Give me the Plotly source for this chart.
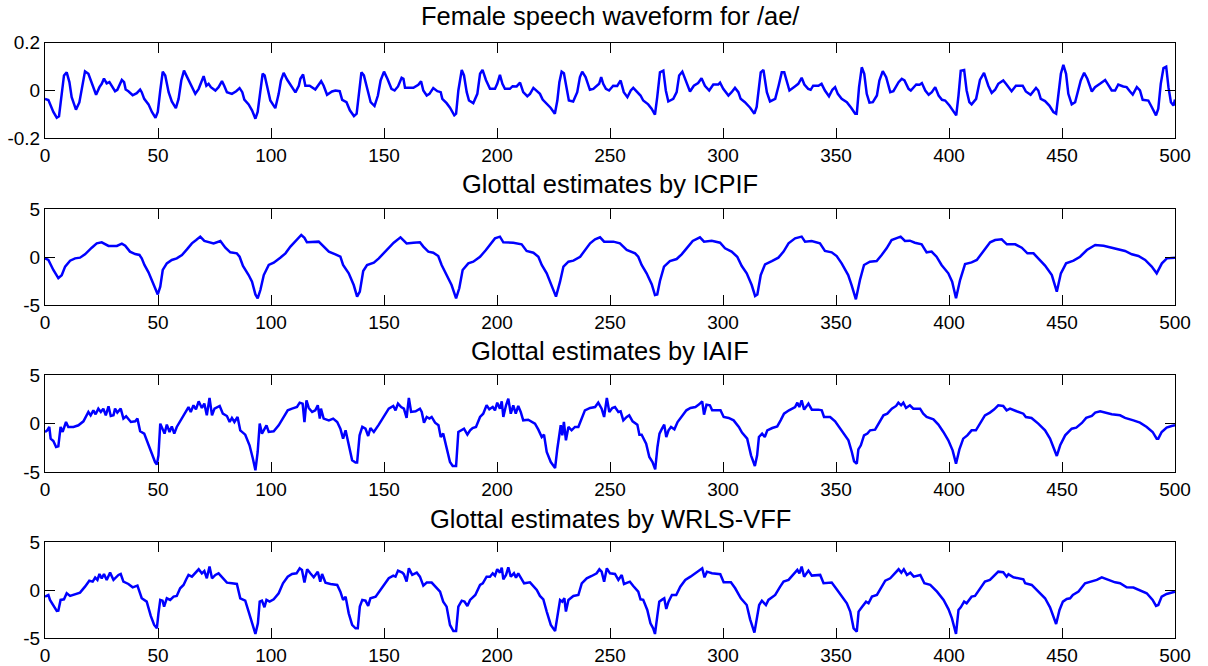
import plotly.graph_objects as go
from plotly.subplots import make_subplots

# ---- data (sample index, value) ----
speech = [(0,-0.035),(1.5,-0.04),(3.7,-0.09),(5.2,-0.114),(6.2,-0.108),(7.4,-0.02),(8.4,0.063),(9.6,0.076),(10.8,0.035),(11.8,-0.028),(13.7,-0.08),(15.2,-0.05),(16.7,0.02),(17.7,0.08),(19.2,0.07),(20.7,0.028),(22.6,-0.018),(24.1,0.014),(25.1,0.028),(26.1,0.05),(27.3,0.03),(28.5,0.035),(29.5,0.02),(31,-0.003),(32,0.003),(34,0.044),(35,0.035),(35.7,0.004),(36.9,-0.003),(38.8,-0.02),(40.6,-0.011),(42.1,0.004),(42.8,-0.007),(43.9,-0.035),(45.8,-0.058),(47.3,-0.09),(48.9,-0.114),(49.9,-0.09),(51,0),(52.1,0.079),(53.2,0.063),(54.7,-0.007),(56.1,-0.046),(57.9,-0.074),(59.1,-0.035),(60.3,0.042),(61.5,0.083),(62.8,0.058),(64.3,0.035),(66.5,-0.014),(68,0.007),(70.2,0.06),(71.4,0.02),(72.4,0.028),(73.4,0.014),(75.4,0),(76.8,0.014),(78.3,0.039),(79.3,0.02),(80.5,-0.007),(82.7,-0.014),(84.6,-0.003),(86.1,0.01),(87.3,-0.007),(88.2,-0.038),(90.1,-0.058),(91.6,-0.083),(93.1,-0.118),(94.1,-0.09),(95.3,0),(96.3,0.07),(97.2,0.063),(98.2,0.02),(99.7,-0.042),(101.9,-0.074),(103.4,-0.014),(104.4,0.042),(105.6,0.074),(107.1,0.046),(108.8,0.02),(110.8,-0.008),(112.3,0.02),(113,0.049),(114.2,0.067),(115.2,0.02),(117.1,0.02),(119.6,0.004),(122.2,0.039),(123.3,0.02),(124.8,-0.018),(127,-0.004),(128.5,0),(130.4,-0.003),(131.5,-0.039),(133.4,-0.049),(134.9,-0.083),(136.7,-0.107),(137.9,-0.097),(138.9,0),(140,0.076),(141.1,0.063),(142.6,0),(144.1,-0.049),(145.8,-0.065),(147.3,-0.021),(148.5,0.042),(150,0.079),(151.5,0.049),(153.3,0.007),(154.7,0),(156.2,0.017),(157.8,0.053),(158.6,0.049),(159.3,0.011),(163,0.011),(165.2,0.024),(166.4,0.039),(167.4,0),(168.9,-0.021),(170.1,-0.014),(171.8,0.01),(173.6,-0.003),(175.1,-0.007),(175.8,-0.035),(177.7,-0.053),(179.2,-0.072),(181.1,-0.104),(181.9,-0.097),(182.9,0),(184.4,0.086),(185.4,0.063),(186.6,-0.007),(187.6,-0.042),(189.5,-0.053),(191.3,-0.014),(192.5,0.07),(193.6,0.086),(195.1,0.044),(196.9,0.007),(199.1,0.007),(200.1,0.028),(201.3,0.065),(202.4,0.028),(203.5,0.007),(205.7,0.007),(206.9,0.018),(208.7,0.017),(210.2,0.033),(211.6,-0.007),(213.4,-0.024),(214.6,-0.014),(216.1,0.011),(218,-0.007),(219,-0.014),(220.2,-0.038),(221.9,-0.056),(223.7,-0.072),(225.6,-0.097),(226.7,-0.042),(227.6,0.035),(228.6,0.079),(229.6,0.072),(230.8,0),(231.8,-0.042),(233.7,-0.046),(235.5,-0.007),(236.7,0.056),(237.7,0.079),(239.2,0.056),(241.1,0.003),(242.6,0.007),(244.1,0.02),(245.2,0.028),(246.1,0.056),(247,0.028),(248.2,0.007),(249.6,0),(251.4,0.02),(253.2,0.019),(254.7,0.042),(256.1,-0.007),(257.7,-0.028),(259.2,0),(260.3,0.011),(262,-0.007),(263.5,-0.021),(264.7,-0.042),(266.9,-0.058),(268.4,-0.076),(269.9,-0.101),(270.9,-0.028),(272.1,0.076),(273.6,0.083),(274.7,0),(275.8,-0.046),(278,-0.035),(279.5,-0.007),(280.6,0.063),(282,0.079),(283.4,0.042),(285.4,-0.004),(287.1,0.02),(289,0.031),(290.5,0.051),(292,0.02),(293.9,0),(295.7,0.025),(297.9,0.025),(298.7,0.033),(300.1,0.007),(302.4,-0.021),(303.8,-0.007),(305.3,0.011),(306.8,-0.007),(307.8,-0.035),(309.7,-0.049),(312,-0.072),(313.9,-0.097),(314.9,-0.069),(316,0.02),(316.7,0.076),(317.9,0.086),(319.4,-0.007),(320.8,-0.046),(323.1,-0.035),(324.6,0.02),(326,0.076),(327.1,0.076),(328.2,0.035),(329.4,0),(331.8,0.017),(333.3,0.028),(334.8,0.053),(336,0.025),(337.7,0.007),(338.8,0.003),(339.9,0.02),(342.2,0.02),(343.6,0.028),(345.1,0),(346.9,-0.024),(348.4,0.003),(349.6,0.014),(350.8,-0.014),(352.5,-0.035),(354.8,-0.049),(356.7,-0.072),(358.5,-0.097),(359.2,-0.097),(360.2,0.014),(361.4,0.097),(362.5,0.07),(363.6,-0.014),(364.8,-0.051),(366.3,-0.049),(368.1,-0.021),(369.2,0.042),(370.7,0.081),(372.2,0.056),(374,-0.007),(375.4,-0.003),(376.6,0.017),(377.7,0.035),(379.1,0.049),(380.3,0.042),(382.1,0.007),(383.1,0),(385.5,0.025),(387,0.024),(388,0.031),(389.5,0),(391,-0.018),(392.4,-0.007),(393.9,0.014),(395.4,-0.021),(396.9,-0.039),(398.3,-0.042),(400.2,-0.063),(402,-0.088),(403.2,-0.104),(404.2,-0.021),(405.2,0.083),(406.7,0.086),(407.8,0),(409,-0.049),(410,-0.058),(412,-0.035),(413.7,0.044),(415.5,0.074),(417.4,0.02),(418.9,-0.01),(420.4,0.003),(421.8,0.028),(424,0.042),(425.2,0.028),(427.7,-0.003),(429.6,0.02),(432.6,0.02),(434,-0.004),(436.1,-0.018),(438.5,0.011),(439.5,0),(440.6,-0.035),(442.5,-0.044),(444.4,-0.063),(446.2,-0.09),(447.4,-0.097),(448.4,-0.028),(449.5,0.07),(450.6,0.107),(451.8,0.07),(452.8,-0.014),(454.3,-0.058),(455.8,-0.049),(457.3,0),(458.3,0.042),(459.8,0.074),(461.2,0.049),(463.2,-0.004),(464.6,0.014),(466.8,0.028),(469.1,0.044),(470.2,0.028),(472,0),(473.5,0),(474.9,0.025),(477.1,0.017),(478.6,0.014),(480.1,-0.004),(481.3,-0.017),(483.1,0.014),(484.5,0),(485.7,-0.039),(488.2,-0.042),(489.7,-0.069),(491.6,-0.104),(492.6,-0.076),(493.7,0.028),(494.9,0.094),(496.1,0.1),(497.1,0.014),(498.2,-0.049),(499.3,-0.063),(500,-0.038)]

icpif = [(0,-0.14),(1.5,-0.3),(3.7,-1.35),(5.9,-2.2),(7.4,-1.9),(8.9,-1.0),(11.1,-0.38),(13.3,-0.14),(15.5,-0.07),(17.7,0.28),(20.7,0.97),(22.9,1.42),(25.1,1.53),(26.6,1.32),(28.1,1.15),(31.8,1.15),(34,1.39),(35.5,1.18),(37.6,0.56),(39.9,0.31),(41.8,0.21),(42.8,-0.14),(44,-0.83),(45.8,-1.6),(48,-2.85),(49.9,-3.9),(51,-3.1),(52.1,-1.35),(53.9,-0.66),(56.1,-0.31),(58.3,-0.14),(60.6,0.21),(62.8,0.8),(65,1.42),(66.9,1.77),(68.7,2.12),(70.5,1.67),(72.4,1.53),(74.6,1.42),(77.6,1.67),(79.8,0.97),(82,0.49),(84.9,0.38),(86.1,0.03),(87.6,-0.94),(90.1,-1.88),(91.6,-2.57),(93.1,-3.9),(94.1,-4.3),(95.3,-3.44),(96.8,-1.88),(99,-0.83),(101.2,-0.59),(104.1,-0.07),(106.4,0.38),(108.6,1.08),(110.8,1.6),(112.3,2.0),(113.4,2.29),(114.8,2.0),(115.9,1.53),(121.1,1.6),(123.3,1.08),(125.6,0.56),(128.5,0.28),(130.7,0.03),(131.9,-0.83),(134.4,-1.7),(136.6,-2.92),(138.1,-4.13),(139.3,-3.61),(140.8,-1.46),(142.5,-0.83),(145.5,-0.59),(147.7,-0.14),(149.9,0.38),(152.1,0.97),(154.3,1.49),(157.3,2.05),(158.6,1.77),(160,1.42),(163,1.49),(165.9,1.53),(167.4,1.08),(169.6,0.56),(171.8,0.45),(174,0.1),(175.5,-0.83),(177.7,-1.88),(179.9,-2.92),(181.9,-4.3),(183.3,-3.26),(184.8,-1.35),(187.3,-0.66),(189.5,-0.49),(192.5,0.03),(195.1,0.73),(196.9,1.32),(199.1,1.94),(201.3,2.12),(202.8,1.53),(207.2,1.49),(210.9,1.32),(213.1,0.63),(216.1,0.45),(218.3,0.03),(219.8,-0.83),(222,-1.7),(224.2,-2.92),(226.1,-4.13),(227.9,-2.57),(229.4,-1.0),(231.6,-0.49),(233.8,-0.38),(236.8,0.03),(239,0.73),(241.2,1.42),(243.4,1.84),(245.6,2.05),(247.4,1.6),(251.5,1.6),(254.4,1.42),(257.4,0.73),(261.1,0.38),(262.5,0.03),(264,-0.83),(266.2,-1.7),(268.5,-2.85),(269.9,-3.96),(270.9,-3.9),(272.1,-2.5),(273.9,-1.0),(276.5,-0.42),(279.5,-0.21),(281.7,0.28),(283.9,0.9),(286.6,1.67),(289.8,2.05),(291.6,1.6),(295,1.7),(298.7,1.49),(300.9,0.9),(303.8,0.56),(306.3,0.03),(308.3,-0.94),(310.5,-1.7),(312.7,-2.92),(314.2,-4.06),(315.2,-3.9),(316.7,-1.88),(318.6,-0.76),(321.6,-0.42),(324.5,-0.07),(326.8,0.56),(329,1.42),(331.9,1.94),(334.8,2.12),(336.3,1.6),(339.2,1.67),(342.9,1.42),(345.1,0.63),(348.1,0.49),(350.3,0.1),(352.5,-0.66),(355.4,-1.88),(356.9,-2.92),(358.8,-4.41),(360.6,-2.4),(362.4,-0.83),(365,-0.49),(368,-0.42),(370.2,0.21),(372.4,0.9),(374.6,1.77),(376.8,1.94),(378.6,2.12),(380.5,1.67),(382.7,1.7),(384.9,1.49),(387.9,1.32),(390.1,0.49),(392.3,0.56),(394.5,0.03),(396.7,-0.83),(399.7,-1.7),(401.4,-2.57),(403.1,-4.3),(404.9,-2.4),(407.1,-0.73),(410,-0.56),(412.3,-0.31),(415.2,0.56),(418.2,1.53),(420.4,1.77),(423.3,1.84),(425.6,1.32),(429.3,1.32),(432.2,0.97),(434.7,0.38),(437.4,0.38),(439.6,-0.21),(442.5,-0.9),(445.5,-1.88),(447.7,-3.61),(449.5,-1.7),(451.8,-0.66),(455.1,-0.38),(458,0.03),(461,0.73),(464.7,1.25),(468.4,1.18),(472,0.97),(475.7,0.73),(477.9,0.63),(480.9,0.28),(483.8,0.1),(486.8,-0.31),(489.7,-1.0),(491.9,-1.7),(494.2,-0.66),(496.4,-0.14),(500,-0.07)]

iaif = [(0,-0.86),(1,-0.69),(1.9,-0.34),(2.5,-1.55),(3.7,-1.8),(4.9,-2.41),(5.9,-2.34),(6.9,-0.34),(7.8,-0.86),(9.3,0.17),(10.3,-0.34),(12.6,-0.34),(14.8,-0.17),(17,0.24),(19.2,1.21),(20.2,0.86),(21.4,1.38),(22.4,0.97),(23.6,1.55),(24.7,1.21),(25.8,1.55),(26.9,0.86),(28.1,1.79),(29.1,0.79),(30.3,0.86),(31,1.55),(32,1.14),(33.5,1.55),(34.7,0.52),(35.9,0.76),(38,0.17),(39.9,0.24),(40.9,0.52),(42.1,-0.79),(43.9,-1.03),(45.8,-2.24),(47.3,-3.1),(48.7,-3.97),(49.5,-4.24),(50.2,-3.28),(51,0),(52,-0.52),(52.9,-1.03),(53.9,-0.1),(55.1,-0.86),(56.1,-0.28),(57.2,-1.03),(58.3,-0.34),(59.8,0.24),(61,0.62),(62,1.03),(63.5,1.72),(64.5,1.21),(65.7,1.9),(66.8,1.48),(68,2.31),(69.4,1.62),(70.5,2.07),(71.6,0.86),(72.8,2.66),(73.9,0.86),(75,1.55),(77.3,1.83),(78.7,1.03),(80.5,0.79),(81.7,0.17),(82.7,0.59),(83.8,0.17),(85.2,0.69),(86.4,-0.69),(88.6,-1.14),(90.5,-2.24),(92,-3.62),(93.1,-4.83),(94.1,-2.93),(95,0),(96,-1.03),(97.1,-0.52),(98,-0.17),(99,-0.86),(101.2,-0.79),(103.4,-0.17),(105.6,0.69),(107.4,1.38),(109.3,1.55),(111.5,1.72),(112.7,2.17),(114,2.07),(114.8,0.17),(115.7,2.41),(116.7,1.62),(118.2,1.21),(119.6,1.38),(120.7,1.9),(121.6,0.52),(122.1,1.55),(123.3,0.52),(125.6,0.34),(127.5,0.52),(129.3,0.17),(130.7,-0.52),(131.9,-1.55),(133,-0.69),(134.4,-2.24),(135.9,-3.79),(137.4,-4.03),(138.1,-4.03),(139.2,-1.21),(140.4,-0.34),(141.8,-0.52),(143,-1.28),(144,-0.45),(145.5,-0.86),(147.7,-0.1),(149.9,0.79),(152.1,1.55),(154.1,1.83),(155.1,1.38),(156.2,2.07),(157.6,1.72),(158.8,1.55),(160,0.59),(161,2.66),(162,1.21),(164,1.28),(165.9,1.55),(166.7,1.21),(167.7,0.1),(168.9,0.69),(170.1,0.52),(171.1,0.69),(172.6,0.1),(174.1,-0.17),(175.1,-1.38),(176.2,-1.03),(177.7,-2.41),(179.2,-3.97),(180.4,-4.38),(181.9,-4.38),(182.9,-0.86),(184.1,-0.69),(185.4,-0.52),(186.9,-1.14),(188.1,-0.69),(189.2,-0.45),(190.7,-0.34),(192.5,0.69),(193.9,1.03),(195.4,1.9),(196.6,1.48),(198.1,1.72),(199.1,1.38),(200.1,2.17),(201.3,1.55),(202.1,2.31),(202.8,0.69),(204,1.9),(205,2.59),(206.1,1.03),(207.2,1.9),(208.3,1.03),(209.4,1.83),(210.5,1.21),(211.6,0.34),(213.8,0.41),(215.3,0.17),(216.8,0),(218.3,-0.62),(219.8,-1.38),(220.8,-1.14),(222,-2.93),(223.8,-3.97),(225.7,-4.59),(226.7,-2.59),(227.6,-0.86),(228.2,-0.17),(228.9,-1.21),(229.6,0.17),(230.5,-1.72),(231.6,-0.34),(233,-0.69),(234.5,-0.34),(236,-0.34),(237.5,0.52),(238.9,1.38),(241.2,1.62),(243.4,1.72),(244.8,2.17),(246.3,1.55),(247.4,0.69),(248.6,2.66),(249.7,1.21),(251,1.62),(252.2,1.72),(253.7,1.21),(254.7,1.28),(255.9,0.34),(257.4,0.69),(258.5,0.86),(260,0.24),(262.1,-0.1),(263,-1.14),(264,-1.14),(266,-2.07),(267.4,-3.45),(268.8,-3.97),(270,-4.72),(271,-2.41),(271.9,-1.03),(273,-0.52),(274,-0.1),(274.9,-1.38),(275.9,-0.69),(277,-0.34),(278.5,-0.59),(279.9,0.17),(281.9,0.86),(283.8,1.38),(285.6,1.62),(287.8,1.72),(289.3,1.97),(290.8,2.31),(291.6,0.93),(292.7,1.97),(294.2,1.9),(295.2,1.38),(298.9,1.38),(300.3,0.69),(302.5,0.59),(304.7,0.34),(307,-0.34),(308.4,-0.93),(310.7,-1.55),(312.4,-3.28),(314.1,-4.38),(315.1,-3.28),(315.9,-1.38),(317.3,-1.03),(318.5,-1.38),(319.6,-0.69),(321.8,-0.45),(324,-0.28),(325.5,0.34),(327,1.03),(329.2,1.38),(331.9,1.72),(332.9,2.17),(333.8,1.72),(334.8,2.41),(335.9,1.45),(337.8,2.07),(339.3,1.45),(342.2,1.45),(343.7,1.38),(344.7,0.69),(347.4,0.69),(349.6,0.24),(351.8,-0.52),(354,-1.28),(355.5,-1.72),(357,-2.93),(358,-3.9),(359.2,-4.14),(359.9,-2.66),(361,-2.24),(362.4,-1.21),(363.9,-1.03),(365.1,-0.69),(367.3,-0.62),(368.8,0),(371,0.86),(372.7,1.03),(374.7,1.55),(376.6,1.83),(377.6,2.17),(378.8,1.9),(379.8,2.17),(381,1.62),(382.7,1.9),(384.2,1.55),(387.2,1.55),(388.6,1.03),(390.1,0.69),(393.1,0.45),(395.3,-0.1),(397.5,-0.86),(399.7,-1.72),(401.6,-2.76),(403.1,-4.14),(404.6,-2.66),(406.3,-1.55),(408.1,-1.21),(410,-0.69),(411.9,-0.69),(413.7,0),(415.9,0.86),(418.1,1.14),(419.9,1.45),(421.8,1.9),(424,1.83),(425.5,1.38),(427,1.55),(429.9,1.28),(432.9,1.03),(434,0.69),(436.5,0.59),(439.5,0),(442.5,-0.69),(444.7,-1.55),(446.2,-2.41),(447.7,-3.34),(449.2,-2.24),(451.4,-1.21),(454.3,-0.52),(456.3,-0.41),(458.8,0.07),(460.7,0.59),(463.2,0.79),(464.7,1.14),(466.9,1.28),(469.1,1.14),(472,0.97),(475.7,0.86),(477.9,0.59),(481.6,0.34),(484.5,0.1),(487.5,-0.34),(490.1,-0.86),(491.9,-1.55),(492.6,-1.55),(494.1,-0.86),(496.3,-0.41),(498.5,-0.24),(500,-0.17)]

wrls = [(0,-0.66),(1.5,-0.49),(2.2,-1.0),(3.7,-1.63),(5.2,-2.15),(5.9,-2.12),(6.9,-1.0),(8.4,-0.94),(9.6,-0.31),(11.1,-0.59),(14,-0.38),(15.5,-0.24),(17.7,0.38),(19.6,1.0),(21.1,0.9),(22.2,1.32),(23.2,1.08),(24.1,1.7),(25.1,1.25),(26.1,1.7),(27.3,1.08),(28.8,1.84),(30.3,1.08),(32.5,1.6),(33.5,1.7),(34.7,0.9),(36.9,0.66),(38.8,0.31),(40.9,0.49),(42.8,-0.83),(45,-1.18),(46.8,-2.67),(48.3,-3.61),(49.5,-3.96),(50.2,-2.4),(51,-1.0),(52,-1.08),(52.7,-1.7),(53.9,-0.83),(55.4,-1.0),(56.9,-0.66),(58.3,-0.59),(59.8,0.21),(61.3,0.56),(62.5,1.15),(63.5,1.6),(65,1.42),(66.5,1.77),(68,2.19),(69.4,1.77),(70.5,2.01),(71.6,1.25),(72.8,2.47),(73.9,1.25),(75.4,1.6),(76.8,1.77),(78.7,1.25),(80.5,0.8),(82.7,0.73),(84.9,0.66),(86.4,-0.83),(88.6,-1.08),(90.1,-2.22),(91.6,-3.44),(93.1,-4.55),(94.2,-3.44),(95,-1.18),(96,-1.08),(97.1,-1.77),(98,-1.0),(99.4,-1.18),(101.2,-0.94),(103.4,-0.31),(105.3,0.73),(107.4,1.42),(109.3,1.7),(111.3,1.77),(112.7,2.29),(113.7,2.12),(114.8,0.8),(116,2.19),(117.4,1.77),(118.9,1.35),(120.7,1.94),(121.8,0.9),(122.6,1.7),(124.1,0.8),(126.3,0.66),(129.3,0.56),(130.7,-0.14),(131.9,-1.0),(133,-0.66),(134.4,-2.4),(135.9,-3.61),(137.4,-3.96),(138.4,-3.96),(139.3,-1.7),(140.4,-1.0),(141.8,-1.08),(143,-1.63),(144,-0.83),(146.3,-0.66),(148.5,0.03),(150.7,0.8),(152.1,1.25),(154.1,1.53),(155.1,1.42),(156.2,2.05),(158.1,1.84),(158.8,1.67),(160,0.9),(161,2.29),(162.5,1.6),(164.5,1.84),(165.9,1.42),(167.4,0.49),(168.9,0.8),(171.1,0.8),(173.3,0.21),(174.8,-0.14),(176.2,-1.18),(177.7,-1.7),(179.2,-3.61),(180.7,-4.24),(181.9,-4.24),(182.9,-1.7),(184.4,-1.08),(185.6,-1.18),(186.9,-1.63),(188.1,-1.0),(190.4,-0.49),(192.5,0.56),(193.7,0.73),(195.4,1.42),(196.9,1.42),(198.1,1.77),(199.1,1.53),(200.1,2.19),(201.3,1.84),(202.1,2.36),(202.8,1.15),(204,1.6),(205,2.4),(206.1,1.42),(207.5,1.77),(208.4,1.32),(209.4,1.77),(210.5,1.35),(212,0.73),(214.6,0.83),(216.1,0.38),(217.6,0.03),(219,-0.59),(220.5,-0.94),(222,-2.22),(223.8,-3.61),(225.7,-4.24),(226.7,-2.74),(227.9,-1.0),(228.9,-1.18),(229.8,-0.83),(230.5,-2.22),(231.6,-1.0),(233.8,-0.59),(236,-0.49),(237.5,0.73),(239.7,1.25),(241.9,1.49),(244.1,1.77),(245.3,2.19),(246.3,1.94),(247.4,0.9),(248.6,2.29),(250,1.77),(252.2,1.7),(253.7,1.08),(255.2,1.6),(256.2,0.66),(258.8,0.9),(260.3,0.45),(262.5,-0.14),(263.5,-0.94),(264.7,-1.0),(266.5,-2.05),(267.9,-3.44),(269.1,-3.96),(269.9,-4.55),(270.9,-2.74),(271.8,-1.18),(272.9,-1.0),(274,-0.83),(274.9,-1.94),(275.9,-1.18),(277.4,-0.49),(279.3,-0.49),(281.1,0.38),(283.3,1.08),(285.6,1.42),(288.2,1.84),(289.7,2.05),(290.8,2.29),(291.8,1.35),(292.9,1.94),(295.1,1.77),(298.8,1.67),(300.3,0.83),(303.5,0.83),(305.4,0.21),(307.9,-0.83),(310.5,-1.53),(312,-3.02),(313.9,-4.41),(315,-3.09),(316,-1.53),(317.2,-1.08),(319,-1.53),(320.1,-1.0),(323.1,-0.49),(325.3,0.38),(326.8,0.9),(329,1.08),(331.9,1.84),(332.9,2.12),(333.8,1.77),(334.8,2.47),(335.9,1.42),(337.8,2.05),(339.3,1.53),(343,1.6),(344.5,0.73),(348.1,0.8),(350.3,0.1),(352.5,-0.66),(354.8,-1.35),(356.3,-2.22),(357.8,-3.96),(359.2,-4.31),(360,-2.22),(361.4,-1.77),(363.3,-1.18),(364.4,-1.35),(365.9,-0.66),(368.1,-0.49),(369.6,0.1),(371.8,1.0),(374,1.25),(376.2,1.77),(377.7,2.19),(378.9,1.84),(380,2.19),(381.4,1.6),(382.9,1.84),(384.4,1.42),(387.3,1.6),(389.1,0.73),(391.7,0.56),(394.7,-0.14),(397.6,-1.0),(399.8,-1.98),(401.3,-2.92),(403.1,-4.55),(404.2,-2.05),(405.2,-1.77),(406.7,-1.18),(407.8,-1.35),(410,-0.66),(411.5,-0.59),(413.7,0.21),(415.9,0.9),(418.1,1.08),(420.4,1.6),(421.8,1.94),(424,1.88),(425.5,1.42),(426.3,1.67),(428.5,1.35),(432.9,1.15),(433.7,0.73),(436.6,0.56),(439.6,-0.14),(442.5,-0.83),(444.7,-1.77),(446.2,-2.67),(447.4,-3.51),(448.9,-2.05),(450.4,-1.18),(452.1,-0.9),(453.6,-0.83),(454.8,-0.49),(457.3,-0.14),(460.2,0.73),(463.2,0.9),(465.4,1.08),(467.6,1.35),(470.6,1.08),(473.5,0.83),(475.7,0.73),(478.6,0.31),(481.6,0.28),(484.5,-0.03),(487.5,-0.31),(490.1,-1.0),(491.6,-1.63),(492.6,-1.53),(494.1,-0.66),(496.3,-0.38),(498.5,-0.24),(500,-0.14)]

titles = ["Female speech waveform for /ae/", "Glottal estimates by ICPIF",
          "Glottal estimates by IAIF", "Glottal estimates by WRLS-VFF"]
x_ticks = [0, 50, 100, 150, 200, 250, 300, 350, 400, 450, 500]
y_ticks_speech = [-0.2, 0, 0.2]
y_labels_speech = ["-0.2", "0", "0.2"]
y_ticks_glottal = [-5, 0, 5]
y_labels_glottal = ["-5", "0", "5"]

series = [speech, icpif, iaif, wrls]
y_ranges = [[-0.2, 0.2], [-5, 5], [-5, 5], [-5, 5]]

# ---- layout geometry (window pixels, 1208x666) ----
W, H = 1208, 666


def fx(px):
    return px / W


def fy(py):
    return 1 - py / H


x_dom = [fx(45), fx(1175)]
rows_px = [(42.7, 138.3), (209, 305), (375.3, 472), (542.3, 638.3)]
title_px = [16, 184, 351, 519]

fig = make_subplots(rows=4, cols=1)
font_family = "Liberation Sans, Arial, sans-serif"

for i, pts in enumerate(series):
    xs = [p[0] for p in pts]
    ys = [p[1] for p in pts]
    fig.add_trace(go.Scatter(x=xs, y=ys, mode="lines",
                             line=dict(color="#0000ff", width=2.5),
                             showlegend=False, hoverinfo="skip"),
                  row=i + 1, col=1)
    top, bot = rows_px[i]
    ax = "" if i == 0 else str(i + 1)
    if i == 0:
        tv, tt = y_ticks_speech, y_labels_speech
    else:
        tv, tt = y_ticks_glottal, y_labels_glottal
    fig.layout["xaxis" + ax].update(
        domain=x_dom, range=[0, 500], tickvals=x_ticks,
        ticktext=[str(v) for v in x_ticks], automargin=False,
        showline=True, mirror="ticks", linecolor="black", linewidth=1,
        ticks="inside", ticklen=10, tickcolor="black", tickwidth=1,
        showgrid=False, zeroline=False,
        tickfont=dict(family=font_family, size=19, color="black"))
    fig.layout["yaxis" + ax].update(
        domain=[fy(bot), fy(top)], range=y_ranges[i],
        tickvals=tv, ticktext=tt, automargin=False,
        showline=True, mirror="ticks", linecolor="black", linewidth=1,
        ticks="inside", ticklen=10, tickcolor="black", tickwidth=1,
        showgrid=False, zeroline=False,
        tickfont=dict(family=font_family, size=19, color="black"))
    fig.add_annotation(text=titles[i], x=fx(610), y=fy(title_px[i]),
                       xref="paper", yref="paper", xanchor="center",
                       yanchor="middle", showarrow=False,
                       font=dict(family=font_family, size=25.5, color="black"))

fig.update_layout(width=W, height=H, margin=dict(l=0, r=0, t=0, b=0),
                  paper_bgcolor="white", plot_bgcolor="white")

fig.write_html("out.html")
